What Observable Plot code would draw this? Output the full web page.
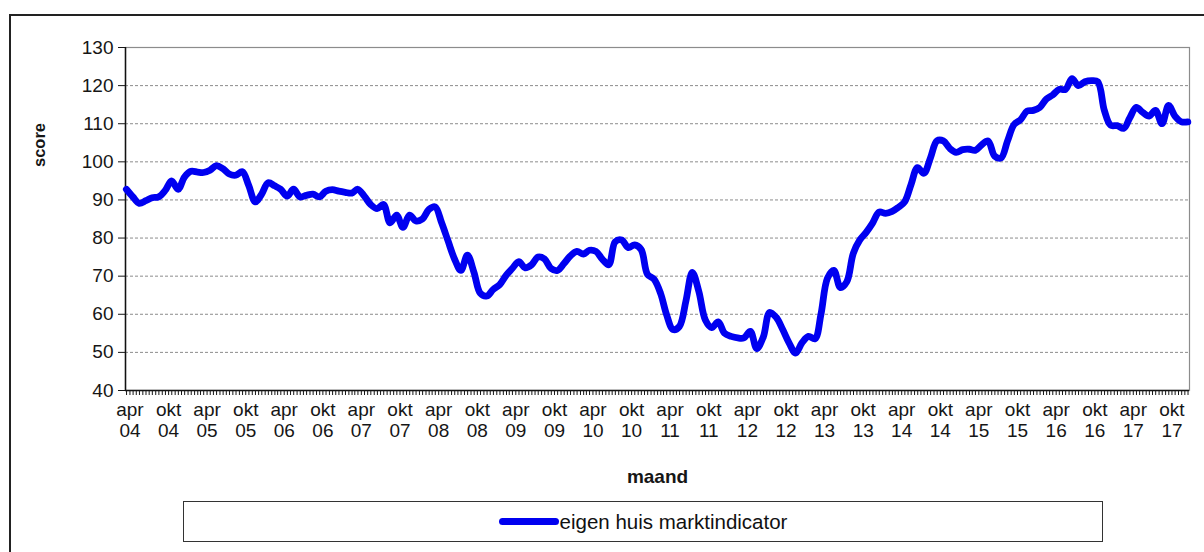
<!DOCTYPE html>
<html><head><meta charset="utf-8">
<script src="https://cdn.jsdelivr.net/npm/d3@7"></script>
<script src="https://cdn.jsdelivr.net/npm/@observablehq/plot@0.6"></script>
<style>
html,body{margin:0;padding:0;background:#fff;width:1204px;height:552px;overflow:hidden;font-family:"Liberation Sans",Arial,sans-serif}
#frame{position:absolute;left:9px;top:14px;width:1210px;height:560px;border:2px solid #222;box-sizing:border-box}
#chart{position:absolute;left:0;top:0}
#legend{position:absolute;left:183px;top:501px;width:920px;height:41px;border:1.5px solid #333;box-sizing:border-box;display:flex;align-items:center;justify-content:center;font-size:20.5px;color:#111;background:#fff}
.sw{display:inline-block;width:60px;height:7px;background:#0000f0;border-radius:4px;margin-right:1px}
</style></head><body>
<div id="frame"></div>
<div id="chart"></div>
<div id="legend"><span class="sw"></span><span>eigen huis marktindicator</span></div>
<script>
// monthly scores, first value = March 2004, last = December 2017
const firstMonth = "2004-03-15";
const score = [
  92.8, 90.8, 89.1, 89.8, 90.6, 90.8, 92.5, 95, 92.8, 96,
  97.5, 97.3, 97.2, 97.8, 99, 98.2, 96.8, 96.5, 97.4, 93.8,
  89.5, 91.5, 94.5, 93.7, 92.8, 91, 92.8, 90.8, 91.2, 91.5,
  90.8, 92.3, 92.7, 92.3, 92, 91.8, 92.8, 91, 88.8, 87.7,
  88.8, 84, 86, 82.8, 86, 84.5, 85, 87.5, 88.2, 84,
  79.3, 74.5, 71.5, 75.5, 71, 65.5, 64.8, 66.5, 67.8, 70.3,
  72, 73.8, 72.2, 73, 75, 74.5, 72, 71.5, 73.3, 75.3,
  76.5, 75.8, 76.8, 76.5, 74.5, 73, 79, 79.5, 77.5, 78.2,
  77, 70.5, 69.2, 65.5, 60, 56, 56.8, 63.5, 71, 66,
  58.5, 56.5, 58, 55, 54.2, 53.8, 53.8, 55.5, 51, 54,
  60.5, 59.2, 56, 52.5, 49.8, 52.5, 54.2, 53.6, 60, 69.5,
  71.5, 67, 68.5, 76, 79.5, 81.5, 84, 86.8, 86.5, 87,
  88, 89.5, 94, 98.5, 97, 101, 105.5, 105.5, 103.5, 102.5,
  103.2, 103.3, 103, 104.5, 105.5, 101.5, 101, 105.5, 109.8, 111,
  113.3, 113.5, 114.3, 116.5, 117.5, 119, 119, 121.8, 120, 121,
  121.3, 121, 113.5, 109.6, 109.5, 108.8, 111.5, 114.3, 113, 112,
  113.5, 110, 114.8, 112, 110.5, 110.5
];
const yTicks = [40, 50, 60, 70, 80, 90, 100, 110, 120, 130];
const gridValues = [50, 60, 70, 80, 90, 100, 110, 120];
const monthNames = {3: "apr", 9: "okt"};
const xDomain = [new Date("2004-03-11"), new Date("2017-12-23")];
const yDomain = [40, 130];

const start = new Date(firstMonth);
const data = score.map((v, i) => ({date: d3.utcMonth.offset(start, i), value: v}));

const labelDates = d3.utcMonth.range(new Date("2004-04-01"), new Date("2017-11-01"))
  .filter(d => d.getUTCMonth() in monthNames);
const minorDates = d3.utcMonth.range(new Date("2004-03-01"), new Date("2018-01-01"))
  .flatMap(d => [d, d3.utcDay.offset(d, 15)])
  .filter(d => d >= xDomain[0] && d <= xDomain[1]);

const font = '"Liberation Sans", Arial, sans-serif';
const chart = Plot.plot({
  width: 1204,
  height: 500,
  marginLeft: 125,
  marginRight: 15,
  marginTop: 47,
  marginBottom: 110,
  style: {fontFamily: font, fontSize: "19px", color: "#161616", background: "transparent"},
  x: {type: "utc", domain: xDomain},
  y: {domain: yDomain},
  marks: [
    Plot.ruleY(gridValues, {stroke: "#8c8c8c", strokeDasharray: "3,2", strokeWidth: 1}),
    Plot.frame({stroke: "#8c8c8c", strokeWidth: 1.2}),
    Plot.ruleY([yDomain[0]], {stroke: "#111", strokeWidth: 1.5}),
    Plot.ruleX([xDomain[0]], {stroke: "#111", strokeWidth: 1.5}),
    Plot.axisY({ticks: yTicks, tickSize: 7, tickPadding: 5, label: null, fontSize: 19}),
    Plot.axisX({ticks: minorDates, tickSize: 5, tickFormat: () => "", label: null}),
    Plot.axisX({ticks: labelDates, tickSize: 0, tickPadding: 11, label: null, lineHeight: 1.1, fontSize: 19,
      tickFormat: d => `${monthNames[d.getUTCMonth()]}\n${String(d.getUTCFullYear() % 100).padStart(2, "0")}`}),
    Plot.line(data, {x: "date", y: "value", stroke: "#0000f0", strokeWidth: 6.8, strokeLinejoin: "round", strokeLinecap: "round", curve: "catmull-rom"}),
    Plot.text(["score"], {frameAnchor: "left", dx: -86, dy: -52, rotate: -90, fontWeight: "bold", fontSize: 16.5}),
    Plot.text(["maand"], {frameAnchor: "bottom", dy: 92, fontWeight: "bold", fontSize: 19})
  ]
});
document.getElementById("chart").appendChild(chart);
</script>
</body></html>
